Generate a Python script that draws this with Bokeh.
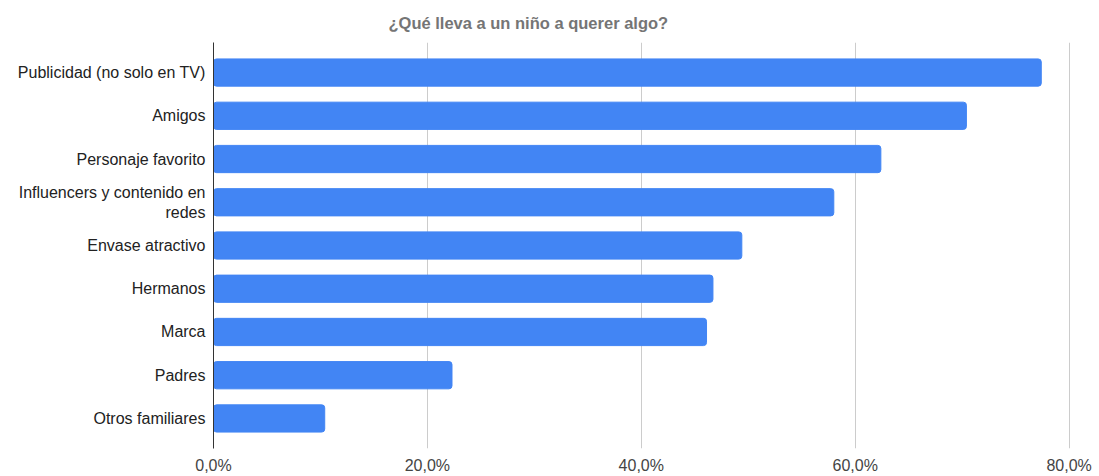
from bokeh.plotting import figure
from bokeh.models import FactorRange, Range1d, FixedTicker
from bokeh.embed import file_html
from bokeh.resources import INLINE

categories = ["Publicidad (no solo en TV)", "Amigos", "Personaje favorito",
              "Influencers y contenido en\nredes", "Envase atractivo", "Hermanos",
              "Marca", "Padres", "Otros familiares"]
values = [0.774, 0.704, 0.624, 0.580, 0.494, 0.467, 0.461, 0.223, 0.104]
tick_values = [0.0, 0.2, 0.4, 0.6, 0.8]
tick_labels = ["0,0%", "20,0%", "40,0%", "60,0%", "80,0%"]

FONT = "Liberation Sans"

yr = FactorRange(factors=list(reversed(categories)), range_padding=0.195,
                 range_padding_units="absolute")
p = figure(width=1099, height=476, y_range=yr, x_range=Range1d(0, 0.806),
           output_backend="svg", toolbar_location=None,
           min_border_left=213, min_border_right=24,
           min_border_top=11, min_border_bottom=28)

p.hbar(y=categories, right=values, left=0, height=0.63, color="#4285F4",
       line_color="#4285F4", border_radius=3)

p.title.text = "¿Qué lleva a un niño a querer algo?"
p.title.text_font = FONT
p.title.text_font_size = "16.5px"
p.title.text_font_style = "bold"
p.title.text_color = "#757575"
p.title.align = "left"
p.title.offset = 175
p.title.standoff = 22

p.outline_line_color = None
p.ygrid.grid_line_color = None
p.xgrid.grid_line_color = "#cccccc"
p.xgrid.ticker = FixedTicker(ticks=tick_values)

p.xaxis.ticker = FixedTicker(ticks=tick_values)
p.xaxis.major_label_overrides = {v: l for v, l in zip(tick_values, tick_labels)}
p.xaxis.axis_line_color = None
p.xaxis.major_tick_line_color = None
p.xaxis.minor_tick_line_color = None
p.xaxis.major_tick_out = 0
p.xaxis.major_tick_in = 0
p.xaxis.minor_tick_out = 0
p.xaxis.major_label_text_font = FONT
p.xaxis.major_label_text_font_size = "16px"
p.xaxis.major_label_text_color = "#444444"
p.xaxis.major_label_standoff = 8

p.yaxis.axis_line_color = "#333333"
p.yaxis.major_tick_line_color = None
p.yaxis.minor_tick_line_color = None
p.yaxis.major_tick_out = 0
p.yaxis.major_tick_in = 0
p.yaxis.major_label_text_font = FONT
p.yaxis.major_label_text_font_size = "16px"
p.yaxis.major_label_text_color = "#222222"
p.yaxis.major_label_standoff = 8

open("out.html", "w").write(file_html(p, INLINE))
